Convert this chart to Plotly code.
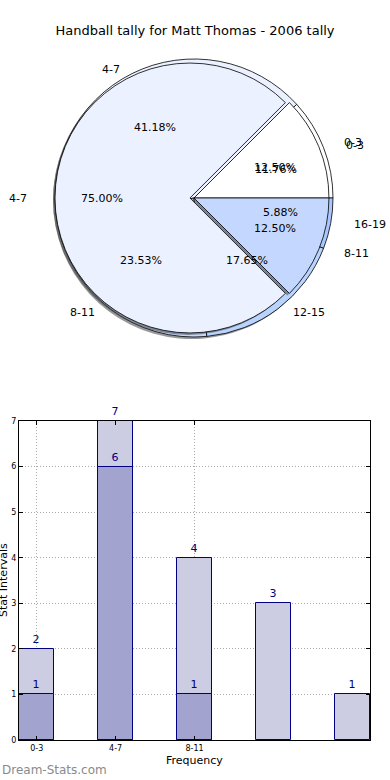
import math
import plotly.graph_objects as go

# ---------------- data ----------------
title_text = "Handball tally for Matt Thomas - 2006 tally"

labels_a = ["0-3", "4-7", "8-11", "12-15", "16-19"]
values_a = [2, 7, 4, 3, 1]
labels_b = ["0-3", "4-7", "8-11"]
values_b = [1, 6, 1]

bar_tick_labels = ["0-3", "4-7", "8-11"]

# ---------------- styles ----------------
W, H = 390, 780
FONT = "DejaVu Sans"
pie_colors_a = ["#FFFFFF", "#EBF1FE", "#C4D8FF", "#B9D3FF", "#A9C7FF"]
pie_colors_b = ["#FFFFFF", "#EBF1FE", "#C4D8FF"]
pull_a = [0] * len(values_a)
pull_b = [0, 0.03, 0]

# pie geometry in pixels
cx, cy, R = 194, 198, 139
lab_rx, lab_ry = 146, 131  # where the text sits


def px_to_paper(x, y):
    return x / W, 1 - y / H


def domain(cx_, cy_, r_):
    x0, y1 = px_to_paper(cx_ - r_, cy_ - r_)
    x1, y0 = px_to_paper(cx_ + r_, cy_ + r_)
    return dict(x=[x0, x1], y=[y0, y1])


def start_rotation(values):
    # matplotlib-like: first wedge starts at 3 o'clock and runs counterclockwise
    return 90 - 360 * values[0] / sum(values)


def shadow(values, pulls):
    return go.Pie(
        values=values, labels=[f"s{i}" for i in range(len(values))], sort=False,
        direction="counterclockwise", rotation=start_rotation(values), pull=pulls,
        marker=dict(colors=["rgba(70,70,70,0.55)"] * len(values), line=dict(width=0)),
        textinfo="none", hoverinfo="skip", showlegend=False,
        domain=domain(cx - 2, cy + 2, R),
    )


def pie(values, labels, colors, pulls):
    return go.Pie(
        values=values, labels=labels, sort=False,
        direction="counterclockwise", rotation=start_rotation(values), pull=pulls,
        marker=dict(colors=colors, line=dict(color="#000000", width=0.8)),
        textinfo="none", hoverinfo="label+percent", showlegend=False,
        domain=domain(cx, cy, R),
    )


fig = go.Figure()
fig.add_trace(shadow(values_a, pull_a))
fig.add_trace(pie(values_a, labels_a, pie_colors_a, pull_a))
fig.add_trace(shadow(values_b, pull_b))
fig.add_trace(pie(values_b, labels_b, pie_colors_b, pull_b))

annotations = []


def pie_texts(labels, values, pulls):
    total = sum(values)
    start = 0.0
    for lab, v, p in zip(labels, values, pulls):
        frac = v / total
        mid = math.radians((start + frac / 2) * 360)
        start += frac
        c, s = math.cos(mid), math.sin(mid)
        k = 1.1 + p
        lx, ly = cx + k * lab_rx * c, cy - k * lab_ry * s
        x, y = px_to_paper(lx, ly)
        annotations.append(dict(
            x=x, y=y, xref="paper", yref="paper", text=lab, showarrow=False,
            xanchor="left" if c > 0 else "right", yanchor="middle",
            font=dict(family=FONT, size=11, color="#000000")))
        k2 = 0.6 + p
        tx, ty = cx + k2 * lab_rx * c, cy - k2 * lab_ry * s
        x, y = px_to_paper(tx, ty)
        annotations.append(dict(
            x=x, y=y, xref="paper", yref="paper", text=f"{frac * 100:.2f}%",
            showarrow=False, xanchor="center", yanchor="middle",
            font=dict(family=FONT, size=11, color="#000000")))


pie_texts(labels_a, values_a, pull_a)
pie_texts(labels_b, values_b, pull_b)

# ---------------- bars ----------------
bar_w = 0.45
fig.add_trace(go.Bar(
    x=list(range(len(values_a))), y=values_a, width=bar_w,
    marker=dict(color="#CCCCE2", line=dict(color="#000080", width=1)),
    text=values_a, textposition="outside", cliponaxis=False, constraintext="none",
    textfont=dict(family=FONT, size=11, color="#000080"),
    xaxis="x", yaxis="y", showlegend=False, name="A",
))
fig.add_trace(go.Bar(
    x=list(range(len(values_b))), y=values_b, width=bar_w,
    marker=dict(color="#A3A3CF", line=dict(color="#000080", width=1)),
    text=values_b, textposition="outside", cliponaxis=False, constraintext="none",
    textfont=dict(family=FONT, size=11, color="#000080"),
    xaxis="x", yaxis="y", showlegend=False, name="B",
))

bx0, by0 = px_to_paper(19, 740)
bx1, by1 = px_to_paper(370, 421)

axis_common = dict(
    showline=True, linecolor="#000000", linewidth=1, mirror="ticks",
    ticks="inside", ticklen=4, tickcolor="#000000",
    showgrid=True, gridcolor="#aaaaaa", griddash="1px,2px", gridwidth=1,
    zeroline=False, layer="above traces", automargin=False,
    tickfont=dict(family=FONT, size=8, color="#000000"),
)

fig.update_layout(
    width=W, height=H, margin=dict(l=0, r=0, t=0, b=0, autoexpand=False),
    paper_bgcolor="white", plot_bgcolor="white",
    barmode="overlay", bargap=0,
    title=dict(text=title_text, x=0.5, xanchor="center", y=1 - 30 / H, yanchor="middle",
               font=dict(family=FONT, size=13, color="#000000")),
    xaxis=dict(domain=[bx0, bx1], anchor="y",
               range=[-bar_w / 2, len(values_a) - 1 + bar_w / 2],
               tickmode="array", tickvals=list(range(len(bar_tick_labels))),
               ticktext=bar_tick_labels, **axis_common),
    yaxis=dict(domain=[by0, by1], anchor="x", range=[0, 7], dtick=1,
               **axis_common),
    font=dict(family=FONT),
)

annotations += [
    dict(x=194 / W, y=1 - 760 / H, xref="paper", yref="paper", text="Frequency",
         showarrow=False, xanchor="center", yanchor="middle",
         font=dict(family=FONT, size=11, color="#000000")),
    dict(x=3 / W, y=1 - 580 / H, xref="paper", yref="paper", text="Stat Intervals",
         showarrow=False, textangle=-90, xanchor="center", yanchor="middle",
         font=dict(family=FONT, size=11, color="#000000")),
    dict(x=0, y=1 - 770 / H, xref="paper", yref="paper", text="Dream-Stats.com",
         showarrow=False, xanchor="left", yanchor="middle",
         font=dict(family=FONT, size=12, color="#8a8a8a")),
]
fig.update_layout(annotations=annotations)

fig.write_html("out.html", config={"displayModeBar": False},
               post_script="document.body.style.margin='0px';")
